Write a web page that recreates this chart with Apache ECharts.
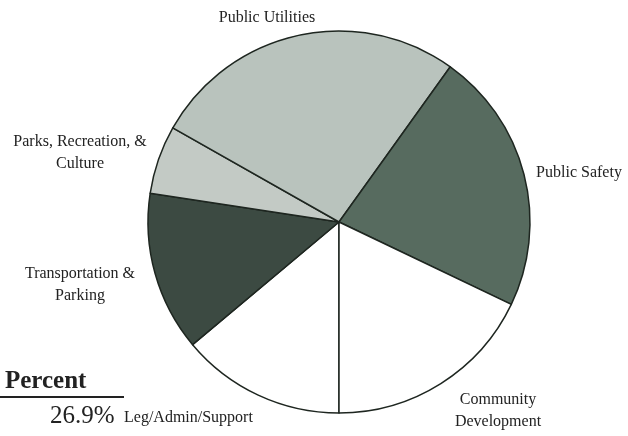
<!DOCTYPE html>
<html>
<head>
<meta charset="utf-8">
<script src="https://cdn.jsdelivr.net/npm/echarts@6/dist/echarts.min.js"></script>
<style>html,body{margin:0;padding:0;background:#fff}#c{width:628px;height:436px}</style>
</head>
<body>
<div id="c"></div>
<script>
var categories = ["Leg/Admin/Support", "Transportation &\nParking", "Parks, Recreation, &\nCulture", "Public Utilities", "Public Safety", "Community\nDevelopment"];
var values = [13.9, 13.5, 5.8, 26.7, 22.2, 17.9];
var colors = ["#ffffff", "#3c4a42", "#c3cac5", "#b9c3bd", "#576b5f", "#ffffff"];
var showLabel = [false, true, true, true, true, true];
var labelPos = [[0,0],[80,285],[80,153],[267,18],[579,173],[498,411]];
var tableHeader = "Percent";
var tablePct = "26.9%";
var tableName = "Leg/Admin/Support";

var chart = echarts.init(document.getElementById('c'), null, {renderer:'canvas'});
var data = categories.map(function(c,i){
  return {name:c, value:values[i], itemStyle:{color:colors[i]}, label:{show:showLabel[i]}};
});
chart.setOption({
  animation:false,
  series:[{
    type:'pie',
    center:[339,222],
    radius:[0,191],
    startAngle:270,
    clockwise:true,
    data:data,
    itemStyle:{borderColor:'#1e2620', borderWidth:1.5},
    label:{position:'outside', fontFamily:'Liberation Serif', fontSize:16, color:'#222', lineHeight:22, align:'center', overflow:'none', width:300},
    labelLine:{show:false},
    labelLayout:function(p){
      var pos = labelPos[p.dataIndex];
      return {x:pos[0], y:pos[1], align:'center', verticalAlign:'middle'};
    },
    emphasis:{disabled:true}
  }],
  graphic:[
    {type:'text', left:5, top:369, style:{text:tableHeader, font:'bold 25px "Liberation Serif"', fill:'#222'}},
    {type:'rect', shape:{x:0,y:396,width:124,height:2}, style:{fill:'#222'}},
    {type:'text', left:50, top:404, style:{text:tablePct, font:'25px "Liberation Serif"', fill:'#222'}},
    {type:'text', left:124, top:410, style:{text:tableName, font:'16px "Liberation Serif"', fill:'#222'}}
  ]
});
</script>
</body>
</html>
